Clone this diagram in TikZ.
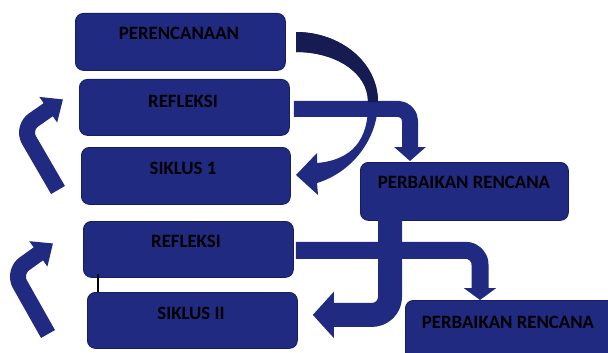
\documentclass[tikz,border=0pt]{standalone}
\usepackage{fontspec}
\setmainfont{Carlito}
\usetikzlibrary{arrows.meta,calc}
\definecolor{nb}{RGB}{31,42,128}
\definecolor{nbd}{RGB}{22,28,82}
\definecolor{nbl}{RGB}{22,30,96}
\begin{document}
\begin{tikzpicture}[x=1pt,y=-1pt,
  box/.style={draw=nbl,line width=0.8pt,fill=nb,rounded corners=8pt,inner sep=0pt,anchor=north west},
  lbl/.style={font=\bfseries\fontsize{18.8}{20}\selectfont,text=black,anchor=base,inner sep=0pt},
  flow/.style={draw=nb,line cap=butt,line join=round}
]
\clip (0,0) rectangle (608,353);
\useasboundingbox (0,0) rectangle (608,353);
% boxes
\node[box,minimum width=210pt,minimum height=57pt] (plan) at (75,13) {};
\node[box,minimum width=210pt,minimum height=56pt] (ref1) at (79,79) {};
\node[box,minimum width=209pt,minimum height=57pt] (sik1) at (81,147) {};
\node[box,minimum width=208pt,minimum height=58pt] (pr1) at (360,162) {};
\node[box,minimum width=210pt,minimum height=56pt] (ref2) at (83,221) {};
\node[box,minimum width=210pt,minimum height=56pt] (sik2) at (87,292) {};
\node[box,minimum width=215pt,minimum height=60pt] (pr2) at (405,300) {};
% labels
\node[lbl] (tplan) at (179,40) {PERENCANAAN};
\node[lbl] (tref1) at (183,107) {REFLEKSI};
\node[lbl] (tsik1) at (183,174) {SIKLUS 1};
\node[lbl] (tpr1) at (464,188) {PERBAIKAN RENCANA};
\node[lbl] (tref2) at (186,247) {REFLEKSI};
\node[lbl] (tsik2) at (191,319) {SIKLUS II};
\node[lbl] (tpr2) at (508,328) {PERBAIKAN RENCANA};
% bent arrows
\draw[flow,line width=16pt,rounded corners=12pt,-{Triangle[length=14pt,width=31pt]}]
  ($(ref1.east)+(4,1.5)$) -| ($(pr1.north west)+(50,-1)$);
\draw[flow,line width=17pt,rounded corners=14pt,-{Triangle[length=12pt,width=32pt]}]
  ($(ref2.east)+(2,1)$) -| ($(pr2.north west)+(75,0)$);
\draw[flow,line width=24pt,rounded corners=18pt,-{Triangle[length=21pt,width=45pt]}]
  ($(pr1.south west)+(30,-2)$) |- ($(sik2.east)+(15,-5.5)$);
% left curved arrows
\coordinate (la1) at (58,190);
\coordinate (lb1) at (22,128);
\draw[flow,line width=16pt,rounded corners=14pt,-{Triangle[length=18pt,width=30pt]}]
  (la1) -- (lb1) -- ($(ref1.west)+(-16,-8)$);
\coordinate (la2) at (48,334);
\coordinate (lb2) at (13,272);
\draw[flow,line width=16pt,rounded corners=14pt,-{Triangle[length=18pt,width=30pt]}]
  (la2) -- (lb2) -- ($(ref2.west)+(-30,-6)$);
% curved arrow from PERENCANAAN to SIKLUS 1
\fill[nb] (296,32) .. controls (340,32) and (378,62) .. (378,102)
  .. controls (378,138) and (353,172) .. (317,183) -- (318,195) -- (296,175)
  -- (317,153) -- (317,163) .. controls (352,160) and (369,140) .. (368,102)
  .. controls (368,72) and (335,52) .. (296,52) -- cycle;
\fill[nbd] (296,32) .. controls (340,32) and (378,62) .. (378,102)
  -- (368,102) .. controls (368,72) and (335,52) .. (296,52) -- cycle;
% small black mark
\draw[black,line width=2pt] ($(ref2.south west)+(14.5,-4)$) -- ($(sik2.north west)+(10.5,0)$);
\end{tikzpicture}
\end{document}
